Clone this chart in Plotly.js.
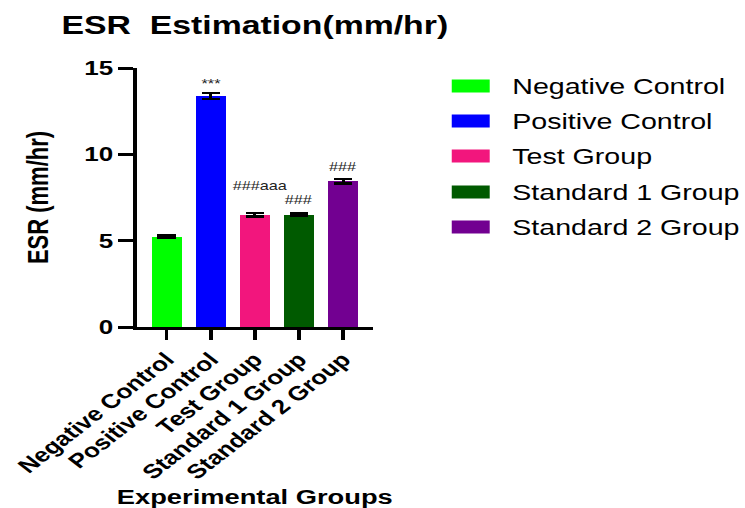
<!DOCTYPE html>
<html>
<head>
<meta charset="utf-8">
<script src="https://cdn.plot.ly/plotly-3.0.1.min.js"></script>
<style>
  html, body { margin: 0; padding: 0; background: #ffffff; overflow: hidden; }
  /* the figure is laid out narrow and widened horizontally */
  #chart { width: 573px; height: 508px; transform: scaleX(1.3); transform-origin: 0 0; }
</style>
</head>
<body>
<div id="chart"></div>
<script>
// ESR (mm/hr) per experimental group, mean and error
const groups = ['Negative Control', 'Positive Control', 'Test Group', 'Standard 1 Group', 'Standard 2 Group'];
const esrMean = [5.22, 13.38, 6.49, 6.49, 8.45];
const esrErr = [0.08, 0.16, 0.09, 0.08, 0.14];
const sigLabels = ['', '***', '###aaa', '###', '###'];
const barColors = ['#00FF00', '#0000FF', '#F2167D', '#005A00', '#720091'];

// significance label offsets above the error caps (px)
const sigYShift = [0, 0, 18, 5, 3];
const sigXShift = [0, 0, 4, 0, 0];

const W = 573, H = 508;
const M = { l: 105, r: 286, t: 68, b: 181 };
const plotW = W - M.l - M.r, plotH = H - M.t - M.b;
const px2x = px => (px - M.l) / plotW;
const px2y = py => (H - M.b - py) / plotH;

const FONT = 'Liberation Sans, Arial, sans-serif';

const trace = {
  type: 'bar',
  x: groups,
  y: esrMean,
  width: 0.68,
  marker: { color: barColors, line: { width: 0 } },
  error_y: { type: 'data', array: esrErr, visible: true, color: '#000000', thickness: 2.2, width: 7 },
  showlegend: false,
  hoverinfo: 'x+y'
};

const annotations = [];
groups.forEach((g, i) => {
  if (sigLabels[i]) {
    annotations.push({
      x: g, y: esrMean[i] + esrErr[i], xref: 'x', yref: 'y',
      text: sigLabels[i], showarrow: false,
      yanchor: 'bottom', xanchor: 'center',
      yshift: sigYShift[i], xshift: sigXShift[i],
      font: { family: FONT, size: 12.5, color: '#222222' }
    });
  }
});

// legend: swatch + group name per row
const legendRowY = [86, 121, 156, 192, 227];
const shapes = [];
groups.forEach((g, i) => {
  shapes.push({
    type: 'rect', xref: 'paper', yref: 'paper',
    x0: px2x(347.5), x1: px2x(376.7),
    y0: px2y(legendRowY[i] + 6.5), y1: px2y(legendRowY[i] - 6.5),
    fillcolor: barColors[i], line: { width: 0 }
  });
  annotations.push({
    xref: 'paper', yref: 'paper',
    x: px2x(391.6), y: px2y(legendRowY[i]),
    xanchor: 'left', yanchor: 'middle',
    text: g, showarrow: false,
    font: { family: FONT, size: 22, color: '#000000' }
  });
});

const layout = {
  width: W, height: H,
  margin: M,
  paper_bgcolor: '#ffffff', plot_bgcolor: '#ffffff',
  title: {
    text: 'ESR\u00a0\u00a0Estimation(mm/hr)',
    font: { family: FONT, size: 26, weight: 'bold', color: '#000000' },
    x: 0.5, xref: 'paper', xanchor: 'center',
    y: 1 - 25 / H, yref: 'container', yanchor: 'middle'
  },
  xaxis: {
    type: 'category',
    range: [-0.68, 4.68],
    showgrid: false, zeroline: false,
    showline: true, linecolor: '#000000', linewidth: 3,
    ticks: 'outside', ticklen: 10, tickwidth: 3, tickcolor: '#000000',
    tickangle: -45,
    tickfont: { family: FONT, size: 20, weight: 'bold', color: '#000000' },
    title: {
      text: 'Experimental Groups', standoff: 10,
      font: { family: FONT, size: 21, weight: 'bold', color: '#000000' }
    },
    fixedrange: true
  },
  yaxis: {
    range: [0, 15],
    tickvals: [0, 5, 10, 15],
    showgrid: false, zeroline: false,
    showline: true, linecolor: '#000000', linewidth: 3,
    ticks: 'outside', ticklen: 11, tickwidth: 3, tickcolor: '#000000',
    tickfont: { family: FONT, size: 20, weight: 'bold', color: '#000000' },
    title: {
      text: 'ESR (mm/hr)', standoff: 22,
      font: { family: FONT, size: 22, weight: 'bold', color: '#000000' }
    },
    fixedrange: true
  },
  shapes: shapes,
  annotations: annotations,
  bargap: 0
};

Plotly.newPlot('chart', [trace], layout, { displayModeBar: false, staticPlot: true });
</script>
</body>
</html>
